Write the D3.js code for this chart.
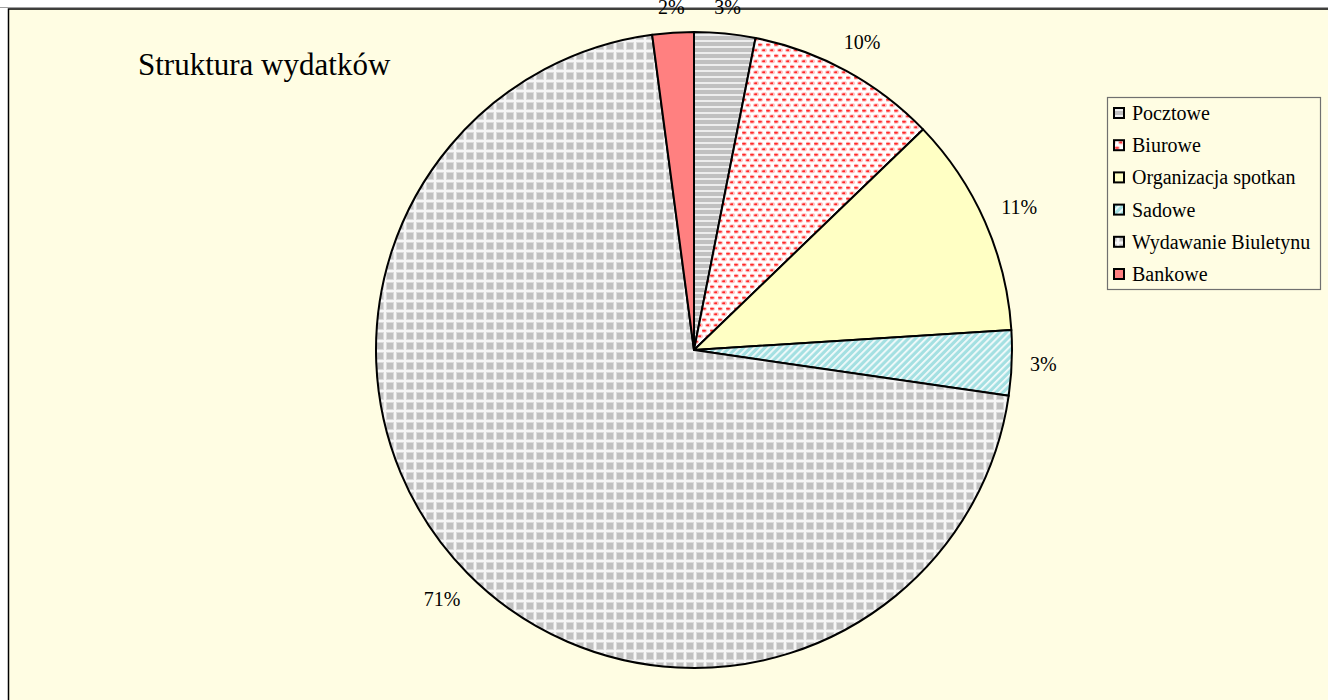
<!DOCTYPE html>
<html>
<head>
<meta charset="utf-8">
<script src="https://cdn.jsdelivr.net/npm/d3@7"></script>
<style>
  body { margin: 0; background: #fff; }
  svg { display: block; }
  text { font-family: "Liberation Serif", "Times New Roman", serif; fill: #000; }
</style>
</head>
<body>
<div id="chart"></div>
<script>
// dane wykresu
const categories = ["Pocztowe", "Biurowe", "Organizacja spotkan", "Sadowe", "Wydawanie Biuletynu", "Bankowe"];
const values = [3.1, 9.7, 11.2, 3.3, 70.6, 2.1];
const fills = ["url(#pPoczt)", "url(#pBiur)", "#FFFFC4", "url(#pSad)", "url(#pWyd)", "#FF8080"];
const title = "Struktura wydatków";

const width = 1328, height = 700;
const cx = 694, cy = 350, radius = 318;

const svg = d3.select("#chart")
  .append("svg")
  .attr("width", width)
  .attr("height", height);

// wzory wypelnien
const defs = svg.append("defs");

const poczt = defs.append("pattern").attr("id", "pPoczt")
  .attr("patternUnits", "userSpaceOnUse").attr("width", 6).attr("height", 6);
poczt.append("rect").attr("width", 6).attr("height", 6).attr("fill", "#C0C0C0");
poczt.append("rect").attr("y", 2).attr("width", 6).attr("height", 2).attr("fill", "#EDEDED");

const biur = defs.append("pattern").attr("id", "pBiur")
  .attr("patternUnits", "userSpaceOnUse").attr("width", 8).attr("height", 11);
biur.append("rect").attr("width", 8).attr("height", 11).attr("fill", "#fff");
[[2, 2.75], [6, 8.25], [-2, 8.25], [10, 8.25]].forEach(([x, y]) => {
  biur.append("ellipse").attr("cx", x).attr("cy", y).attr("rx", 3).attr("ry", 2).attr("fill", "#FFC4C4");
  biur.append("ellipse").attr("cx", x).attr("cy", y).attr("rx", 2).attr("ry", 1.1).attr("fill", "#FF2A2A");
});

const sad = defs.append("pattern").attr("id", "pSad")
  .attr("patternUnits", "userSpaceOnUse").attr("width", 5).attr("height", 5)
  .attr("patternTransform", "rotate(45)");
sad.append("rect").attr("width", 5).attr("height", 5).attr("fill", "#A4E0E2");
sad.append("rect").attr("width", 1.8).attr("height", 5).attr("fill", "#F4FBFB");

const wyd = defs.append("pattern").attr("id", "pWyd")
  .attr("patternUnits", "userSpaceOnUse").attr("width", 10).attr("height", 10);
wyd.append("rect").attr("width", 10).attr("height", 10).attr("fill", "#F6F6F6");
wyd.append("rect").attr("x", 2).attr("y", 2).attr("width", 8).attr("height", 8).attr("fill", "#DADADA");
wyd.append("rect").attr("x", 3).attr("y", 3).attr("width", 6).attr("height", 6).attr("fill", "#C0C0C0");

// tlo obszaru wykresu
svg.append("line")
  .attr("x1", 0).attr("x2", width).attr("y1", 7.5).attr("y2", 7.5)
  .attr("stroke", "#A0A0A0").attr("stroke-width", 1);
svg.append("rect")
  .attr("x", 8.5).attr("y", 9)
  .attr("width", width).attr("height", height)
  .attr("fill", "#FFFDE3")
  .attr("stroke", "#000")
  .attr("stroke-width", 1.5);

svg.append("text")
  .attr("x", 138).attr("y", 75)
  .style("font-size", "31px")
  .text(title);

// wykres kolowy
const pie = d3.pie().sort(null).value((d) => d.value);
const data = pie(categories.map((c, i) => ({ name: c, value: values[i], fill: fills[i] })));
const total = d3.sum(values);

const arc = d3.arc().innerRadius(0).outerRadius(radius);
const g = svg.append("g").attr("transform", `translate(${cx},${cy})`);

g.selectAll("path")
  .data(data)
  .enter()
  .append("path")
  .attr("d", arc)
  .attr("fill", (d) => d.data.fill)
  .attr("stroke", "#000")
  .attr("stroke-width", 2)
  .attr("stroke-linejoin", "round");

// etykiety procentowe poza kolem
const labels = g.selectAll(".etykieta")
  .data(data)
  .enter()
  .append("text")
  .attr("class", "etykieta")
  .style("font-size", "20px")
  .attr("text-anchor", "middle")
  .attr("dy", "0.35em")
  .text((d) => Math.round((d.data.value / total) * 100) + "%");

labels.each(function (d) {
  const a = (d.startAngle + d.endAngle) / 2;
  const w = this.getComputedTextLength();
  const dist = radius + 18 + (w / 2) * Math.abs(Math.sin(a)) + 7 * Math.abs(Math.cos(a));
  d3.select(this)
    .attr("x", dist * Math.sin(a))
    .attr("y", -dist * Math.cos(a));
});

// legenda
const legend = svg.append("g").attr("transform", "translate(1107,97)");
legend.append("rect")
  .attr("x", 0.5).attr("y", 0.5)
  .attr("width", 213).attr("height", 192)
  .attr("fill", "#FFFDE3")
  .attr("stroke", "#707070")
  .attr("stroke-width", 1.2);

const item = legend.selectAll(".legend")
  .data(data)
  .enter()
  .append("g")
  .attr("class", "legend")
  .attr("transform", (d, i) => `translate(0, ${16 + i * 32.2})`);

item.append("rect")
  .attr("x", 7).attr("y", -5)
  .attr("width", 10).attr("height", 10)
  .attr("fill", (d) => d.data.fill)
  .attr("stroke", "#000")
  .attr("stroke-width", 2);

item.append("text")
  .attr("x", 25)
  .attr("dy", "0.35em")
  .style("font-size", "20px")
  .text((d) => d.data.name);
</script>
</body>
</html>
